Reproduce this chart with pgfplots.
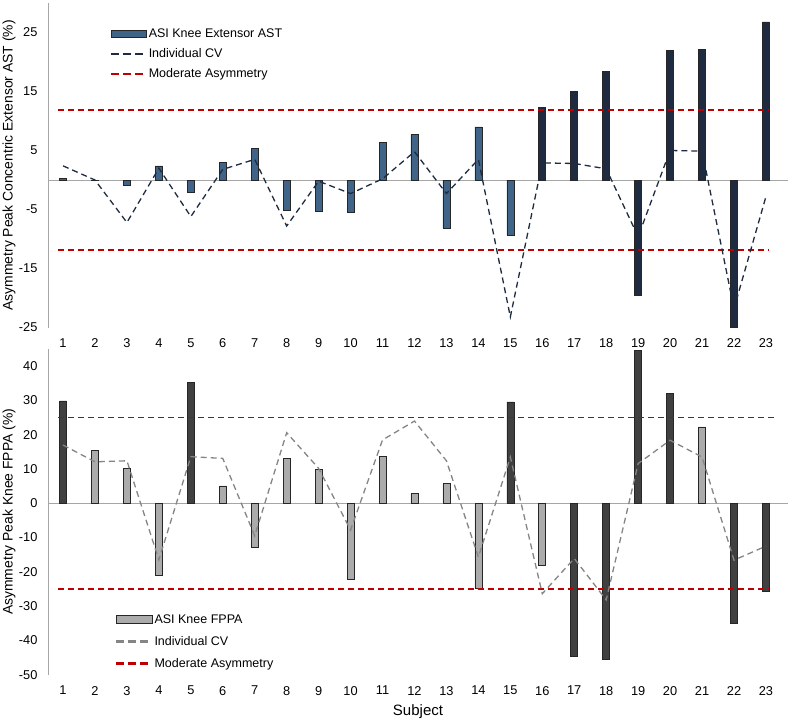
\documentclass[border=0pt]{standalone}
\usepackage{fontspec}
\setmainfont{Liberation Sans}
\usepackage{pgfplots}
\pgfplotsset{compat=1.18}
\usetikzlibrary{decorations.markings}
\definecolor{steel}{HTML}{3F6488}
\definecolor{navy}{HTML}{1E2B40}
\definecolor{dgray}{HTML}{404040}
\definecolor{lgray}{HTML}{ABABAB}
\definecolor{cvgray}{HTML}{858585}
\definecolor{modred}{HTML}{C00000}
\definecolor{axgray}{HTML}{A6A6A6}
\newcommand{\dashimg}[2]{%
  \fill[#1] (0pt,-#2) rectangle (7pt,#2);
  \fill[#1] (12pt,-#2) rectangle (19pt,#2);
  \fill[#1] (24pt,-#2) rectangle (31pt,#2);}
\tikzset{filldash/.style={draw=none, postaction={decorate}, decoration={markings, mark=between positions 0 and 1 step 10pt with {\fill[modred] (0pt,-0.8pt) rectangle (6pt,0.8pt);}}}}
\pgfplotsset{
 panel/.style={
  scale only axis, width=740pt,
  xmin=0.53, xmax=23.69,
  axis lines=left, axis line style={-},
  x axis line style={draw=none},
  y axis line style={draw=axgray, line width=0.9pt},
  xtick={1,...,23}, major tick length=0pt,
  tick style={draw=none},
  /pgf/number format/assume math mode=true,
  tick label style={font=\fontsize{12.8}{15}\selectfont},
  xticklabel style={yshift=-8pt},
  yticklabel style={xshift=-7pt},
  every axis y label/.style={at={(axis description cs:-0.0527,0.5)},rotate=90,anchor=center,font=\fontsize{13.9}{16}\selectfont},
  legend style={draw=none, fill=none, inner sep=0pt, font=\fontsize{12.5}{15}\selectfont},
  legend cell align=left,
  /tikz/every even column/.append style={column sep=5pt},
 },
}
\begin{document}
\begin{tikzpicture}
\begin{axis}[panel, at={(48pt,-3pt)}, anchor=north west, height=324.5pt,
  ymin=-25, ymax=30, ytick={-25,-15,...,25},
  ylabel={Asymmetry Peak Concentric Extensor AST (\%)},
  legend style={at={(axis description cs:0.0851,0.928)}, anchor=north west, row sep=5.5pt}]
\addlegendimage{legend image code/.code={\draw[fill=steel,draw=black!85,line width=0.6pt] (0pt,-3.5pt) rectangle (35pt,3.5pt);}}
\addlegendentry{ASI Knee Extensor AST}
\addlegendimage{legend image code/.code={\dashimg{navy}{0.65pt}}}
\addlegendentry{Individual CV}
\addlegendimage{legend image code/.code={\dashimg{modred}{0.8pt}}}
\addlegendentry{Moderate Asymmetry}
\addplot[forget plot, draw=axgray, line width=0.9pt] coordinates {(0.53,0) (23.69,0)};
\addplot[forget plot, ybar, bar width=7pt, bar shift=0pt, draw=black!85, line width=0.6pt, fill=steel] coordinates {(1,0.3)(2,-0.1)(3,-0.9)(4,2.4)(5,-2.1)(6,3.05)(7,5.3)(8,-5.2)(9,-5.3)(10,-5.5)(11,6.4)(12,7.7)(13,-8.2)(14,9.0)(15,-9.4)};
\addplot[forget plot, ybar, bar width=7pt, bar shift=0pt, draw=black!85, line width=0.6pt, fill=navy] coordinates {(16,12.3)(17,15.0)(18,18.4)(19,-19.5)(20,21.9)(21,22.1)(22,-25.0)(23,26.8)};
\addplot[forget plot, draw=modred, line width=1.6pt, dash pattern=on 6pt off 4pt] coordinates {(0.85,11.9)(23.1,11.9)};
\addplot[forget plot, draw=modred, line width=1.6pt, dash pattern=on 6pt off 4pt] coordinates {(0.85,-11.9)(23.1,-11.9)};
\addplot[forget plot, draw=navy, line width=1.3pt, dash pattern=on 6pt off 4pt] coordinates {(1,2.4)(2,0)(3,-7.2)(4,2.0)(5,-6.2)(6,1.8)(7,3.5)(8,-7.8)(9,-0.2)(10,-2.3)(11,0.2)(12,4.8)(13,-2.3)(14,3.5)(15,-23.2)(16,2.9)(17,2.8)(18,1.9)(19,-9.6)(20,5.0)(21,4.9)(22,-21.8)(23,-2.8)};
\end{axis}
\begin{axis}[panel, at={(48pt,-349.1pt)}, anchor=north west, height=325.5pt,
  ymin=-50, ymax=45, ytick={-50,-40,...,40},
  ylabel={Asymmetry Peak Knee FPPA (\%)},
  xlabel={Subject},
  xlabel style={at={(axis description cs:0.5,-0.115)}, anchor=center, font=\fontsize{15}{17}\selectfont},
  legend style={at={(axis description cs:0.0915,0.192)}, anchor=north west, row sep=7.5pt}]
\addlegendimage{legend image code/.code={\draw[fill=lgray,draw=black!85,line width=0.6pt] (0pt,-3.8pt) rectangle (36pt,3.8pt);}}
\addlegendentry{ASI Knee FPPA}
\addlegendimage{legend image code/.code={\dashimg{cvgray}{0.65pt}}}
\addlegendentry{Individual CV}
\addlegendimage{legend image code/.code={\dashimg{modred}{0.8pt}}}
\addlegendentry{Moderate Asymmetry}
\addplot[forget plot, draw=axgray, line width=0.9pt] coordinates {(0.53,0) (23.69,0)};
\addplot[forget plot, ybar, bar width=7pt, bar shift=0pt, draw=black!85, line width=0.6pt, fill=lgray] coordinates {(2,15.4)(3,10.2)(4,-21.0)(6,5.1)(7,-12.7)(8,13.2)(9,9.9)(10,-22.1)(11,13.8)(12,3.0)(13,5.7)(14,-24.7)(16,-18.0)(21,22.3)};
\addplot[forget plot, ybar, bar width=7pt, bar shift=0pt, draw=black!85, line width=0.6pt, fill=dgray] coordinates {(1,29.9)(5,35.3)(15,29.6)(17,-44.7)(18,-45.4)(19,44.6)(20,32.0)(22,-35.0)(23,-25.6)};
\addplot[forget plot, filldash] coordinates {(0.85,25)(23.1,25)};
\addplot[forget plot, draw=modred, line width=1.6pt, dash pattern=on 6pt off 4pt] coordinates {(0.85,-25)(23.1,-25)};
\addplot[forget plot, draw=cvgray, line width=1.3pt, dash pattern=on 6pt off 4pt] coordinates {(1,17.0)(2,12.1)(3,12.4)(4,-16.5)(5,13.6)(6,13.1)(7,-9.5)(8,20.6)(9,10.2)(10,-7.8)(11,18.5)(12,24.0)(13,12.4)(14,-15.7)(15,13.5)(16,-26.4)(17,-16.1)(18,-28.2)(19,11.6)(20,18.4)(21,13.5)(22,-16.6)(23,-12.5)};
\end{axis}
\pgfresetboundingbox
\path[use as bounding box] (0,0) rectangle (790pt,-721pt);
\end{tikzpicture}
\end{document}
